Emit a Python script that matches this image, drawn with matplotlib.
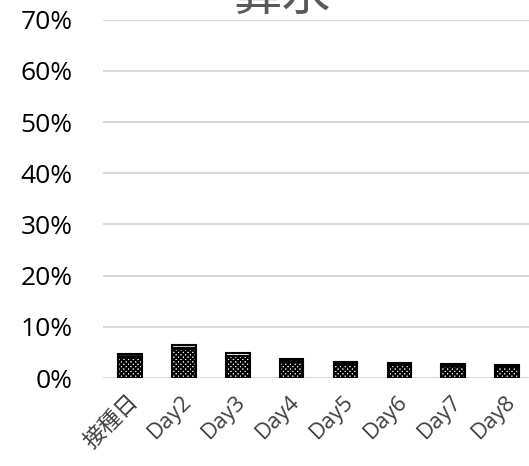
import matplotlib.pyplot as plt
import matplotlib.transforms as mtransforms
from matplotlib.ticker import PercentFormatter

# data (percent)
days = ['接種日', 'Day2', 'Day3', 'Day4', 'Day5', 'Day6', 'Day7', 'Day8']
mild = [4.1, 5.7, 4.25, 3.2, 2.7, 2.45, 2.3, 2.1]
severe = [0.55, 0.75, 0.55, 0.5, 0.5, 0.45, 0.43, 0.42]

plt.rcParams['font.family'] = ['Open Sans', 'Noto Sans CJK JP', 'DejaVu Sans']
plt.rcParams['hatch.linewidth'] = 1.4

fig = plt.figure(figsize=(5.29, 4.66), dpi=100)
ax = fig.add_axes([0.1947, 0.1888, 0.815, 0.769])

x = range(len(days))
w = 0.44
ax.bar(x, mild, w, facecolor='white', edgecolor='black', hatch='xxxxxxx', linewidth=0, zorder=3)
ax.bar(x, mild, w, facecolor='none', edgecolor='black', linewidth=1.5, zorder=4)
ax.bar(x, severe, w, bottom=mild, facecolor='black', edgecolor='white', hatch='--', linewidth=0, zorder=3)
ax.bar(x, severe, w, bottom=mild, facecolor='none', edgecolor='black', linewidth=1.5, zorder=4)

ax.set_xlim(-0.5, 7.5)
ax.set_ylim(0, 70)
ax.set_yticks(range(0, 71, 10))
ax.yaxis.set_major_formatter(PercentFormatter(decimals=0))
ax.grid(axis='y', color='#d9d9d9', linewidth=1.5, zorder=0)
for s in ax.spines.values():
    s.set_visible(False)
ax.tick_params(axis='y', length=0, pad=22, labelsize=19, labelcolor='black')
ax.tick_params(axis='x', length=0, pad=15)
ax.set_xticks(list(x))
ax.set_xticklabels(days, rotation=45, ha='right', va='center', rotation_mode='anchor',
                   fontsize=16, color='#404040')
# nudge labels a bit right, like the original
shift = mtransforms.ScaledTranslation(5 / 100, 0, fig.dpi_scale_trans)
for lab in ax.get_xticklabels():
    lab.set_transform(lab.get_transform() + shift)

fig.text(0.533, 0.978, '鼻水', fontsize=35, color='#595959', ha='center', va='baseline',
         family=['Noto Sans CJK JP', 'DejaVu Sans'])

fig.savefig('out.png', dpi=100)
